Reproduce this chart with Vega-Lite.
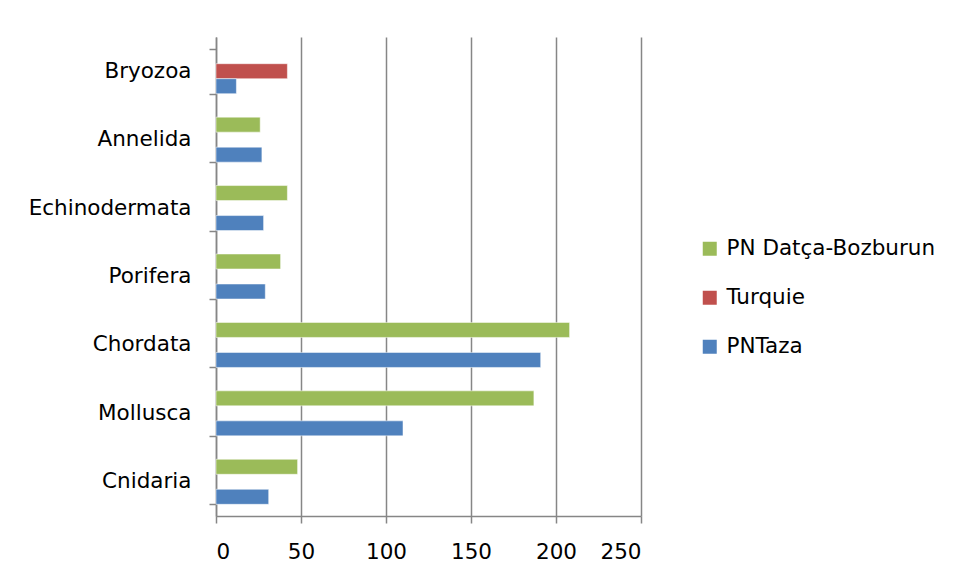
{
  "$schema": "https://vega.github.io/schema/vega-lite/v6.json",
  "width": 425,
  "height": 479,
  "autosize": "none",
  "padding": {"left": 216, "top": 37, "right": 319, "bottom": 63},
  "background": "white",
  "config": {
    "view": {"stroke": null},
    "font": "DejaVu Sans"
  },
  "data": {
    "values": [
      {"phylum": "Bryozoa", "series": "Turquie", "value": 42},
      {"phylum": "Bryozoa", "series": "PNTaza", "value": 12},
      {"phylum": "Annelida", "series": "PN Datça-Bozburun", "value": 26},
      {"phylum": "Annelida", "series": "PNTaza", "value": 27},
      {"phylum": "Echinodermata", "series": "PN Datça-Bozburun", "value": 42},
      {"phylum": "Echinodermata", "series": "PNTaza", "value": 28},
      {"phylum": "Porifera", "series": "PN Datça-Bozburun", "value": 38},
      {"phylum": "Porifera", "series": "PNTaza", "value": 29},
      {"phylum": "Chordata", "series": "PN Datça-Bozburun", "value": 208},
      {"phylum": "Chordata", "series": "PNTaza", "value": 191},
      {"phylum": "Mollusca", "series": "PN Datça-Bozburun", "value": 187},
      {"phylum": "Mollusca", "series": "PNTaza", "value": 110},
      {"phylum": "Cnidaria", "series": "PN Datça-Bozburun", "value": 48},
      {"phylum": "Cnidaria", "series": "PNTaza", "value": 31}
    ]
  },
  "mark": {"type": "bar", "stroke": "white", "strokeOpacity": 0.5, "strokeWidth": 1},
  "encoding": {
    "y": {
      "field": "phylum",
      "type": "nominal",
      "sort": ["Bryozoa", "Annelida", "Echinodermata", "Porifera", "Chordata", "Mollusca", "Cnidaria"],
      "scale": {"paddingInner": 0.342, "paddingOuter": 0.171},
      "axis": {
        "title": null,
        "labelFontSize": 21.5,
        "labelColor": "black",
        "labelPadding": 18,
        "labelLimit": 0,
        "tickBand": "extent",
        "tickSize": 7,
        "tickColor": "#868686",
        "tickWidth": 1.5,
        "domainColor": "#868686",
        "domainWidth": 1.5,
        "grid": false
      }
    },
    "yOffset": {
      "field": "series",
      "type": "nominal",
      "sort": ["PN Datça-Bozburun", "Turquie", "PNTaza"],
      "scale": {"domain": ["PN Datça-Bozburun", "Turquie", "PNTaza"], "paddingInner": 0, "paddingOuter": 0}
    },
    "x": {
      "field": "value",
      "type": "quantitative",
      "scale": {"domain": [0, 250], "nice": false},
      "axis": {
        "title": null,
        "values": [0, 50, 100, 150, 200, 250],
        "labelFontSize": 21.5,
        "labelColor": "black",
        "labelPadding": 18,
        "tickSize": 7,
        "tickColor": "#868686",
        "tickWidth": 1.5,
        "domainColor": "#868686",
        "domainWidth": 1.5,
        "grid": true,
        "gridColor": "#868686",
        "gridWidth": 1.5
      }
    },
    "color": {
      "field": "series",
      "type": "nominal",
      "scale": {"domain": ["PN Datça-Bozburun", "Turquie", "PNTaza"], "range": ["#9BBB59", "#C0504D", "#4F81BD"]},
      "legend": {
        "title": null,
        "orient": "none",
        "legendX": 483,
        "legendY": 201,
        "symbolType": "square",
        "symbolSize": 196,
        "symbolStrokeWidth": 0,
        "labelFontSize": 21.5,
        "labelColor": "black",
        "labelOffset": 6,
        "labelLimit": 0,
        "rowPadding": 26
      }
    }
  }
}
